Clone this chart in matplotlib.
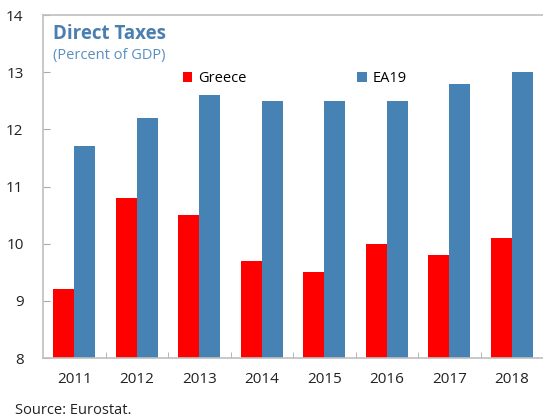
import matplotlib
matplotlib.use("Agg")
import matplotlib.pyplot as plt
import numpy as np

years = ["2011", "2012", "2013", "2014", "2015", "2016", "2017", "2018"]
greece = [9.2, 10.8, 10.5, 9.7, 9.5, 10.0, 9.8, 10.1]
ea19 = [11.7, 12.2, 12.6, 12.5, 12.5, 12.5, 12.8, 13.0]

plt.rcParams['font.family'] = ['Open Sans', 'DejaVu Sans']

fig = plt.figure(figsize=(5.43, 4.2), dpi=100)
ax = fig.add_axes([43/543, 1-358/420, 1-43/543, (358-15)/420])

x = np.arange(len(years))
w = 0.335
red = '#ff0000'
blue = '#4682b4'
ax.bar(x - w/2, [g - 8 for g in greece], w, bottom=8, color=red, label='Greece')
ax.bar(x + w/2, [e - 8 for e in ea19], w, bottom=8, color=blue, label='EA19')

ax.set_xlim(-0.5, len(years) - 0.5)
ax.set_ylim(8, 14)
ax.set_yticks(range(8, 15))
ax.set_xticks(x)
ax.set_xticklabels(years)
ax.set_xticks(np.arange(0.5, len(years) - 0.5, 1), minor=True)
ax.tick_params(axis='x', which='major', length=0, pad=10, labelsize=11, colors='#222222')
ax.tick_params(axis='x', which='minor', length=4, direction='in', color='#aaaaaa')
ax.tick_params(axis='y', length=5, direction='in', color='#aaaaaa', pad=14, labelsize=11, labelcolor='#222222')

for s in ['left', 'bottom', 'top']:
    ax.spines[s].set_color('#bfbfbf')
    ax.spines[s].set_linewidth(1.2)
ax.spines['right'].set_visible(False)

ax.text(0.02, 0.945, 'Direct Taxes', transform=ax.transAxes, fontsize=13.5,
        fontweight='bold', color='#4a7fb0', va='center', ha='left')
ax.text(0.02, 0.882, '(Percent of GDP)', transform=ax.transAxes, fontsize=10.5,
        color='#5b8fc0', va='center', ha='left')

# legend
ax.legend(loc='upper left', bbox_to_anchor=(0.268, 0.853), ncol=2, frameon=False,
          fontsize=10.5, handlelength=0.65, handleheight=0.65, handletextpad=0.4,
          columnspacing=7.6, borderaxespad=0)

fig.text(15/543, 1-410/420, 'Source: Eurostat.', fontsize=10.5, color='#222222',
         va='center', ha='left')

fig.savefig('out.png', dpi=100)
